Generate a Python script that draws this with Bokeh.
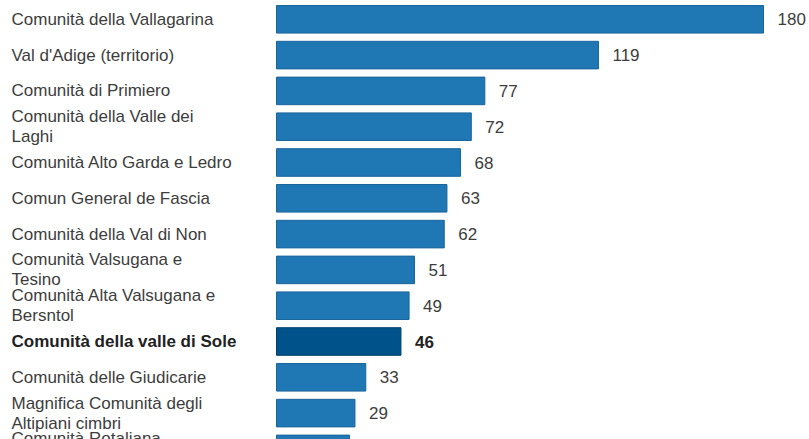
from bokeh.plotting import figure
from bokeh.models import ColumnDataSource, Range1d
from bokeh.core.properties import value, field
from bokeh.embed import file_html
from bokeh.resources import INLINE

categories = [
    "Comunità della Vallagarina",
    "Val d'Adige (territorio)",
    "Comunità di Primiero",
    "Comunità della Valle dei\nLaghi",
    "Comunità Alto Garda e Ledro",
    "Comun General de Fascia",
    "Comunità della Val di Non",
    "Comunità Valsugana e\nTesino",
    "Comunità Alta Valsugana e\nBersntol",
    "Comunità della valle di Sole",
    "Comunità delle Giudicarie",
    "Magnifica Comunità degli\nAltipiani cimbri",
    "Comunità Rotaliana\nKönigsberg",
]
values = [180, 119, 77, 72, 68, 63, 62, 51, 49, 46, 33, 29, 27]
highlight = "Comunità della valle di Sole"

BAR = "#1f77b4"
BAR_LINE = "#1a649c"
HI = "#00528a"
HI_LINE = "#003f6c"

rows = list(range(len(categories)))
is_hi = [c == highlight for c in categories]
src = ColumnDataSource(dict(
    row=rows,
    cat=categories,
    val=values,
    fill=[HI if h else BAR for h in is_hi],
    line=[HI_LINE if h else BAR_LINE for h in is_hi],
    style=["bold" if h else "normal" for h in is_hi],
    tcol=["#222222" if h else "#3d3d3d" for h in is_hi],
))

W, H = 809, 439
pxu = 487 / 180.0
x0 = -276 / pxu
x1 = x0 + W / pxu
pitch = 35.8
ytop = -18.8 / pitch
ybot = (H - 18.8) / pitch

p = figure(width=W, height=H, output_backend="svg", toolbar_location=None,
           x_range=Range1d(x0, x1), y_range=Range1d(ybot, ytop),
           min_border=0, outline_line_color=None)
p.axis.visible = False
p.grid.visible = False
p.background_fill_color = "white"
p.border_fill_color = "white"

p.hbar(y="row", left=0, right="val", height=0.77, source=src,
       fill_color=field("fill"), line_color=field("line"), line_width=1)

p.text(x=x0, y="row", text="cat", source=src, x_offset=11,
       text_font=value("Liberation Sans"), text_font_size="17px",
       text_font_style=field("style"), text_color=field("tcol"),
       text_baseline="middle", text_align="left", text_line_height=1.06)

p.text(x="val", y="row", text="val", source=src, x_offset=14,
       text_font=value("Liberation Sans"), text_font_size="17px",
       text_font_style=field("style"), text_color=field("tcol"),
       text_baseline="middle", text_align="left")

open("out.html", "w").write(file_html(p, INLINE))
